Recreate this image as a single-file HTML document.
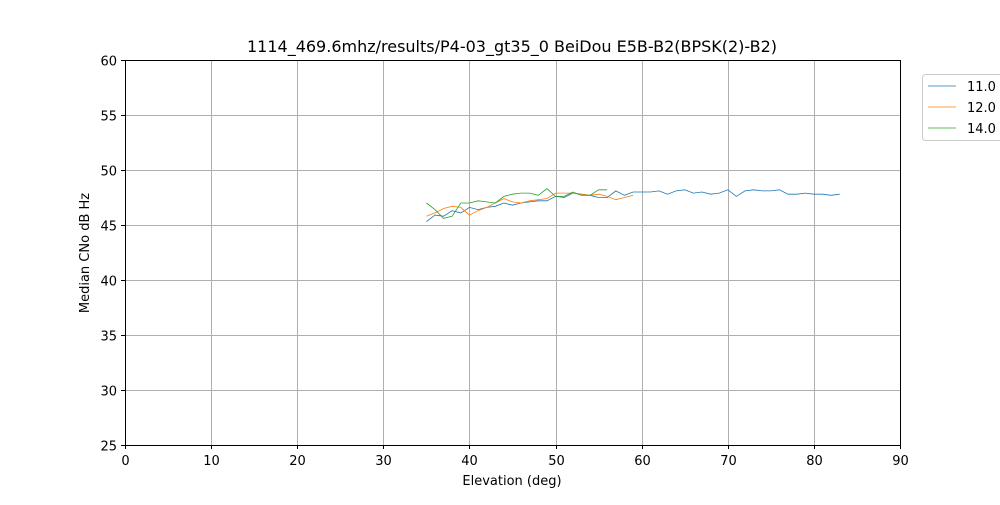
<!DOCTYPE html><html><head><style>body{margin:0;background:#fff}svg{font-family:"DejaVu Sans","Liberation Sans",sans-serif}</style></head><body>
<svg id="s" width="1000" height="500" xmlns="http://www.w3.org/2000/svg">
<rect width="1000" height="500" fill="#fff"/>
<g id="grid" stroke="#b0b0b0" stroke-width="1"></g>
<rect x="125.5" y="60.5" width="775" height="385" fill="none" stroke="#000" stroke-width="1"/>
<g id="ticks" font-size="13" fill="#000"></g>
<g id="lines" fill="none" stroke-width="0.8"></g>
<text x="512" y="52" font-size="16" text-anchor="middle">1114_469.6mhz/results/P4-03_gt35_0 BeiDou E5B-B2(BPSK(2)-B2)</text>
<text x="512" y="485" font-size="13" text-anchor="middle">Elevation (deg)</text>
<text transform="translate(89,253) rotate(-90)" font-size="13" text-anchor="middle">Median CNo dB Hz</text>
<rect x="922.5" y="74.5" width="85" height="66" rx="3" fill="#fff" stroke="#ccc"/>
<line x1="928" y1="86" x2="956" y2="86" stroke="#1f77b4" stroke-width="0.8"/>
<line x1="928" y1="107" x2="956" y2="107" stroke="#ff7f0e" stroke-width="0.8"/>
<line x1="928" y1="128" x2="956" y2="128" stroke="#2ca02c" stroke-width="0.8"/>
<text x="967" y="91" font-size="13">11.0</text>
<text x="967" y="112" font-size="13">12.0</text>
<text x="967" y="133" font-size="13">14.0</text>
</svg>
<script>
const X=e=>125+775*e/90,Y=v=>60+11*(60-v);
const ns="http://www.w3.org/2000/svg";
function el(p,t,a,txt){const e=document.createElementNS(ns,t);for(const k in a)e.setAttribute(k,a[k]);if(txt!==undefined)e.textContent=String(txt);document.getElementById(p).appendChild(e);}
for(let e=0;e<=90;e+=10){const x=Math.round(X(e))+.5;if(e>0&&e<90)el("grid","line",{x1:x,x2:x,y1:60,y2:445});el("ticks","line",{x1:x,x2:x,y1:445,y2:449,stroke:"#000"});el("ticks","text",{x:x,y:465,"text-anchor":"middle"},e);}
for(let v=25;v<=60;v+=5){const y=Math.round(Y(v))+.5;if(v>25&&v<60)el("grid","line",{x1:125,x2:900,y1:y,y2:y});el("ticks","line",{x1:121,x2:125,y1:y,y2:y,stroke:"#000"});el("ticks","text",{x:117,y:y+5,"text-anchor":"end"},v);}
const B=[45.3,45.9,45.8,46.3,46.1,46.6,46.4,46.6,46.7,47.0,46.8,47.0,47.1,47.2,47.2,47.6,47.5,47.9,47.8,47.7,47.5,47.5,48.1,47.7,48.0,48.0,48.0,48.1,47.8,48.1,48.2,47.9,48.0,47.8,47.9,48.2,47.6,48.1,48.2,48.1,48.1,48.2,47.8,47.8,47.9,47.8,47.8,47.7,47.8];
const O=[45.8,46.1,46.5,46.7,46.6,45.9,46.3,46.6,47.0,47.4,47.1,47.0,47.2,47.3,47.4,47.9,47.9,47.9,47.8,47.7,47.8,47.6,47.3,47.5,47.7];
const G=[47.0,46.4,45.6,45.8,47.0,47.0,47.2,47.1,47.0,47.6,47.8,47.9,47.9,47.7,48.3,47.6,47.6,48.0,47.7,47.7,48.2,48.2];
[[B,"#1f77b4"],[O,"#ff7f0e"],[G,"#2ca02c"]].forEach(([d,c])=>el("lines","polyline",{stroke:c,points:d.map((v,i)=>X(35+i).toFixed(1)+","+Y(v).toFixed(1)).join(" ")}));
</script></body></html>
